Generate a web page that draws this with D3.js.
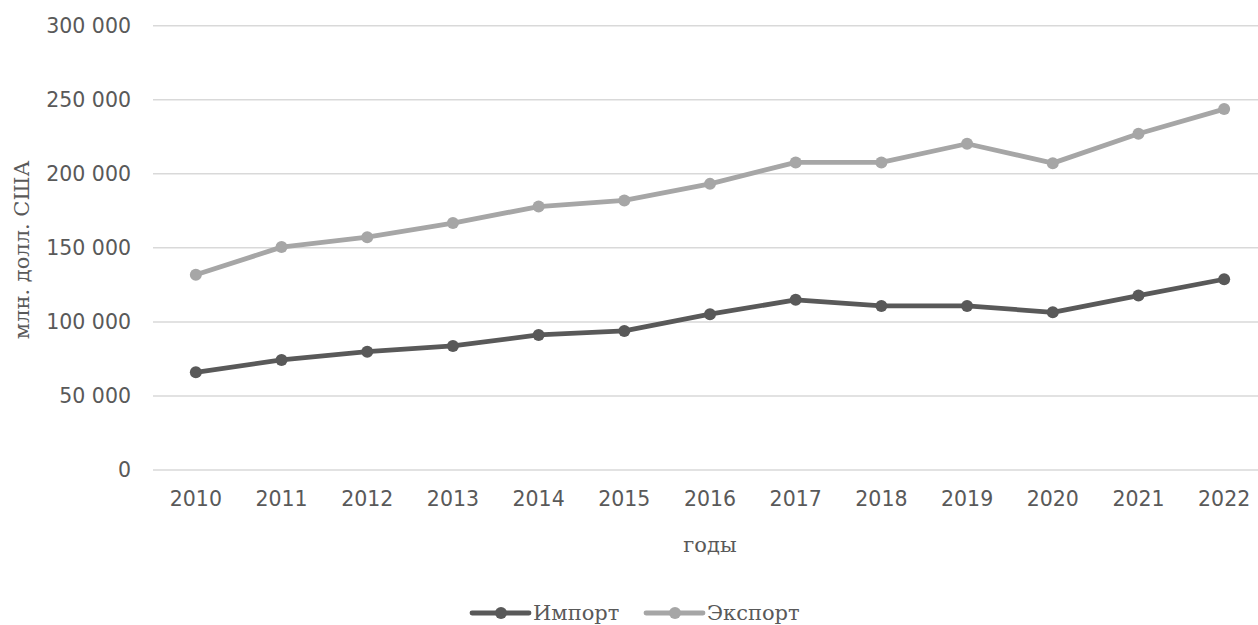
<!DOCTYPE html>
<html><head><meta charset="utf-8">
<script src="https://cdn.jsdelivr.net/npm/d3@7"></script>
<style>body{margin:0;background:#fff;overflow:hidden}</style>
</head><body>
<svg id="c" width="1258" height="625"></svg>
<script>
const years = ["2010","2011","2012","2013","2014","2015","2016","2017","2018","2019","2020","2021","2022"];
const importVals = [66000,74300,79900,83800,91200,93900,105200,114900,110800,110800,106500,117800,128800];
const exportVals = [131800,150500,157200,166700,177900,182000,193200,207700,207700,220300,207200,227000,243700];
const yTicks = [0,50000,100000,150000,200000,250000,300000];
const seriesNames = ["Импорт","Экспорт"];
const seriesColors = ["#595959","#a6a6a6"];

const svg = d3.select("#c");
const x = d3.scaleBand().domain(years).range([153,1267]);
const y = d3.scaleLinear().domain([0,300000]).range([470,25.7]);
const fmt = v => d3.format(",")(v).replace(/,/g," ");

svg.append("g").selectAll("line").data(yTicks).join("line")
  .attr("x1",153).attr("x2",1267)
  .attr("y1",d=>y(d)).attr("y2",d=>y(d))
  .attr("stroke","#d9d9d9").attr("stroke-width",1.5);

const ya = svg.append("g").attr("transform","translate(153,0)")
  .call(d3.axisLeft(y).tickValues(yTicks).tickSize(0).tickPadding(22).tickFormat(fmt));
ya.select(".domain").remove();
ya.selectAll("text").attr("font-family","DejaVu Sans").attr("font-size","20.5px").attr("fill","#595959");

const xa = svg.append("g").attr("transform","translate(0,470)")
  .call(d3.axisBottom(x).tickSize(0).tickPadding(21));
xa.select(".domain").remove();
xa.selectAll("text").attr("font-family","DejaVu Sans").attr("font-size","20.5px").attr("fill","#595959");

svg.append("text").attr("x",710).attr("y",552).attr("text-anchor","middle")
  .attr("font-family","DejaVu Serif").attr("font-size","21px").attr("fill","#595959").text("годы");
svg.append("text").attr("transform","translate(29,250) rotate(-90)").attr("text-anchor","middle")
  .attr("font-family","DejaVu Serif").attr("font-size","21px").attr("fill","#595959").text("млн. долл. США");

const data = [importVals, exportVals];
const line = d3.line().x((d,i)=>x(years[i])+x.bandwidth()/2).y(d=>y(d));
[1,0].forEach(k=>{
  const g = svg.append("g");
  g.append("path").attr("d",line(data[k])).attr("fill","none")
    .attr("stroke",seriesColors[k]).attr("stroke-width",4.8).attr("stroke-linejoin","round");
  g.selectAll("circle").data(data[k]).join("circle")
    .attr("cx",(d,i)=>x(years[i])+x.bandwidth()/2).attr("cy",d=>y(d)).attr("r",6)
    .attr("fill",seriesColors[k]);
});

const legX = [472,646];
seriesNames.forEach((n,k)=>{
  const g = svg.append("g").attr("transform",`translate(${legX[k]},613)`);
  g.append("line").attr("x1",0).attr("x2",57).attr("stroke",seriesColors[k]).attr("stroke-width",4.8).attr("stroke-linecap","round");
  g.append("circle").attr("cx",29).attr("r",6).attr("fill",seriesColors[k]);
  g.append("text").attr("x",61).attr("y",7).attr("font-family","DejaVu Serif").attr("font-size","21px")
    .attr("fill","#595959").text(n);
});
</script>
</body></html>
